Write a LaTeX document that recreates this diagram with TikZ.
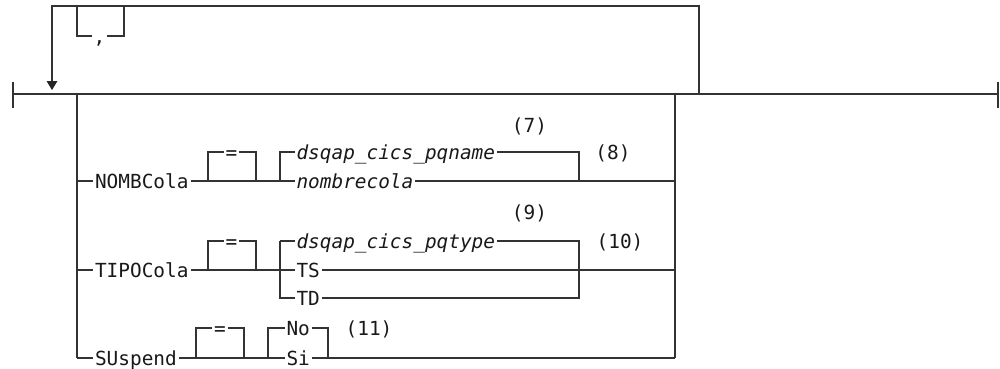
\documentclass[tikz,border=0pt]{standalone}
\usepackage{fontspec}
\newfontfamily\dmono{DejaVu Sans Mono}
\begin{document}
\begin{tikzpicture}[x=1pt,y=-1pt,line width=1.1pt,
  wire/.style={draw=black!80},
  lbl/.style={inner sep=0pt, inner xsep=1.5pt, text height=14pt, text depth=0pt,
    font=\dmono\fontsize{19.4}{20}\selectfont, text=black!90},
  var/.style={lbl, font=\dmono\itshape\fontsize{19.4}{20}\selectfont},
  note/.style={lbl}]
\useasboundingbox (0,0) rectangle (1000,368);

% main line and end bars
\coordinate (s) at (13,94);
\coordinate (e) at (998,94);
\draw[wire] (13,82) -- (13,108);
\draw[wire] (998,82) -- (998,108);
\draw[wire] (s) -- (e);

% repeat loop
\coordinate (lr) at (699,94);
\coordinate (ltr) at (699,6);
\coordinate (ltl) at (52,6);
\coordinate (arr) at (52,81);
\draw[wire] (lr) -- (ltr) -- (ltl) -- (arr);
\fill[black!85] (46.5,81) -- (57.5,81) -- (52,90) -- cycle;

% comma separator
\node[lbl] (comma) at (99.5,36) {,};
\draw[wire] (77,6) -- (77,36) -- (comma.west);
\draw[wire] (comma.east) -- (124,36) -- (124,6);

% group rails
\coordinate (gl) at (77,94);
\coordinate (gr) at (675,94);
\draw[wire] (gl) -- (77,358);
\draw[wire] (gr) -- (675,358);

% ---- NOMBCola row
\node[lbl,anchor=west] (nomb) at (93,181) {NOMBCola};
\node[lbl] (eqa) at (231.5,152) {=};
\node[var,anchor=west] (pqname) at (294.5,152) {dsqap\_cics\_pqname};
\node[var,anchor=west] (nombrecola) at (294.5,181) {nombrecola};
\node[note] (n7) at (529.5,125) {(7)};
\node[note] (n8) at (613,152) {(8)};
\draw[wire] (77,181) -- (nomb.west);
\draw[wire] (nomb.east) -- (280,181) -- (nombrecola.west);
\draw[wire] (208,181) -- (208,152) -- (eqa.west);
\draw[wire] (eqa.east) -- (256,152) -- (256,181);
\draw[wire] (280,181) -- (280,152) -- (pqname.west);
\draw[wire] (pqname.east) -- (579,152) -- (579,181);
\draw[wire] (nombrecola.east) -- (675,181);

% ---- TIPOCola row
\node[lbl,anchor=west] (tipo) at (93,270) {TIPOCola};
\node[lbl] (eqb) at (231.5,241) {=};
\node[var,anchor=west] (pqtype) at (294.5,241) {dsqap\_cics\_pqtype};
\node[lbl,anchor=west] (ts) at (294.5,270) {TS};
\node[lbl,anchor=west] (td) at (294.5,298) {TD};
\node[note] (n9) at (529.5,212) {(9)};
\node[note] (n10) at (620,241) {(10)};
\draw[wire] (77,270) -- (tipo.west);
\draw[wire] (tipo.east) -- (280,270) -- (ts.west);
\draw[wire] (208,270) -- (208,241) -- (eqb.west);
\draw[wire] (eqb.east) -- (256,241) -- (256,270);
\draw[wire] (280,241) -- (280,298) -- (td.west);
\draw[wire] (280,241) -- (pqtype.west);
\draw[wire] (pqtype.east) -- (579,241) -- (579,298) -- (td.east);
\draw[wire] (ts.east) -- (675,270);

% ---- SUspend row
\node[lbl,anchor=west] (susp) at (93,358) {SUspend};
\node[lbl] (eqc) at (220,328) {=};
\node[lbl,anchor=west] (no) at (284.5,328) {No};
\node[lbl,anchor=west] (si) at (284.5,358) {Si};
\node[note] (n11) at (369,328) {(11)};
\draw[wire] (77,358) -- (susp.west);
\draw[wire] (susp.east) -- (268,358) -- (si.west);
\draw[wire] (196,358) -- (196,328) -- (eqc.west);
\draw[wire] (eqc.east) -- (244,328) -- (244,358);
\draw[wire] (268,358) -- (268,328) -- (no.west);
\draw[wire] (no.east) -- (328,328) -- (328,358);
\draw[wire] (si.east) -- (675,358);
\end{tikzpicture}
\end{document}
